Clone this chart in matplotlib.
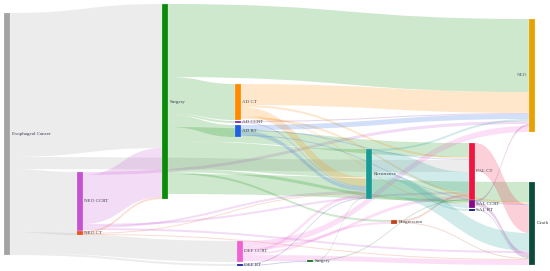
import matplotlib.pyplot as plt
from matplotlib.path import Path
from matplotlib.patches import PathPatch, Rectangle
import matplotlib.colors as mcolors

# nodes
labels = ['Esophageal Cancer', 'Surgery', 'NEO CCRT', 'NEO CT', 'AD CT', 'AD CCRT', 'AD RT',
          'DEF CCRT', 'DEF RT', 'Surgery', 'Recurrence', 'Progression', 'PAL CT',
          'SAL CCRT', 'SAL RT', 'NED', 'Death']
colors = ['#a3a3a3', '#0a8c0a', '#c452d2', '#f0501e', '#ff8a00', '#7a2aa0', '#1f5fe0',
          '#f062d2', '#1a1aa0', '#0e6a1c', '#1a9c96', '#c0441a', '#ee1540',
          '#860a86', '#101070', '#e8a200', '#0c4a3c']

# links (source index, target index, value)
sources = [0, 0, 0, 0, 0, 0,
           2, 2, 2, 2, 2,
           3, 3, 3,
           1, 1, 1, 1, 1, 1, 1, 1, 1,
           4, 4, 4, 4, 4,
           5, 5,
           6, 6, 6, 6,
           7, 7, 7, 7, 7, 7,
           8, 8,
           9, 9,
           11, 11,
           10, 10, 10, 10, 10,
           12,
           13, 13,
           14]
targets = [1, 12, 2, 3, 7, 8,
           1, 15, 10, 16, 12,
           1, 10, 16,
           15, 4, 5, 6, 10, 12, 13, 11, 16,
           15, 10, 12, 16, 13,
           15, 10,
           15, 10, 12, 16,
           15, 10, 12, 11, 9, 16,
           10, 9,
           10, 12,
           12, 16,
           12, 13, 14, 16, 15,
           16,
           16, 15,
           16]
values = [144, 12, 59, 4, 21, 2,
          49, 3, 2, 2, 2,
          2, 1, 1,
          73, 36, 2, 12, 28, 14, 3, 2, 20,
          21, 9, 2, 2, 1,
          1, 1,
          5, 4, 1, 1,
          6, 3, 3, 2, 1, 5,
          1, 1,
          1, 1,
          2, 1,
          20, 4, 2, 18, 2,
          28,
          4, 2,
          1]

# layout in pixels: left edge and top of each node
node_x = [4, 162, 77, 77, 235, 235, 235, 237, 237, 307, 366, 391, 469, 469, 469, 529, 529]
node_y = [13, 4, 172, 231, 84, 121, 125, 241, 264, 260, 149, 220, 143, 200, 209, 19, 182]
node_w = 6

n = len(labels)
out_sum = [0] * n
in_sum = [0] * n
for s, t, v in zip(sources, targets, values):
    out_sum[s] += v
    in_sum[t] += v
height = [max(a, b) for a, b in zip(out_sum, in_sum)]
center = [node_y[i] + height[i] / 2 for i in range(n)]

fig = plt.figure(figsize=(5.5, 2.71), dpi=100)
ax = fig.add_axes([0, 0, 1, 1])
ax.set_xlim(0, 550)
ax.set_ylim(271, 0)
ax.axis('off')

links = list(range(len(values)))
out_off = {}
in_off = {}
for i in range(n):
    off = node_y[i]
    for k in sorted([k for k in links if sources[k] == i], key=lambda k: center[targets[k]]):
        out_off[k] = off
        off += values[k]
    off = node_y[i]
    for k in sorted([k for k in links if targets[k] == i], key=lambda k: center[sources[k]]):
        in_off[k] = off
        off += values[k]

for k in links:
    s, t, v = sources[k], targets[k], values[k]
    x0 = node_x[s] + node_w
    x1 = node_x[t]
    y0, y1 = out_off[k], in_off[k]
    xm = (x0 + x1) / 2
    verts = [(x0, y0), (xm, y0), (xm, y1), (x1, y1),
             (x1, y1 + v), (xm, y1 + v), (xm, y0 + v), (x0, y0 + v), (x0, y0)]
    codes = [Path.MOVETO, Path.CURVE4, Path.CURVE4, Path.CURVE4,
             Path.LINETO, Path.CURVE4, Path.CURVE4, Path.CURVE4, Path.CLOSEPOLY]
    ax.add_patch(PathPatch(Path(verts, codes), facecolor=mcolors.to_rgba(colors[s], 0.2),
                           edgecolor='none', zorder=1))

for i in range(n):
    ax.add_patch(Rectangle((node_x[i], node_y[i]), node_w, height[i], facecolor=colors[i],
                           edgecolor=mcolors.to_rgba('white', 0.5), linewidth=0.3, zorder=3))
    if labels[i] == 'NED':
        ax.text(node_x[i] - 2, center[i], labels[i], ha='right', va='center',
                fontsize=3.6, family='Liberation Serif', color='#556070', zorder=4)
    else:
        ax.text(node_x[i] + node_w + 1.5, center[i], labels[i], ha='left', va='center',
                fontsize=3.6, family='Liberation Serif', color='#3a3f4a', zorder=4)

fig.savefig('out.png', dpi=100)
